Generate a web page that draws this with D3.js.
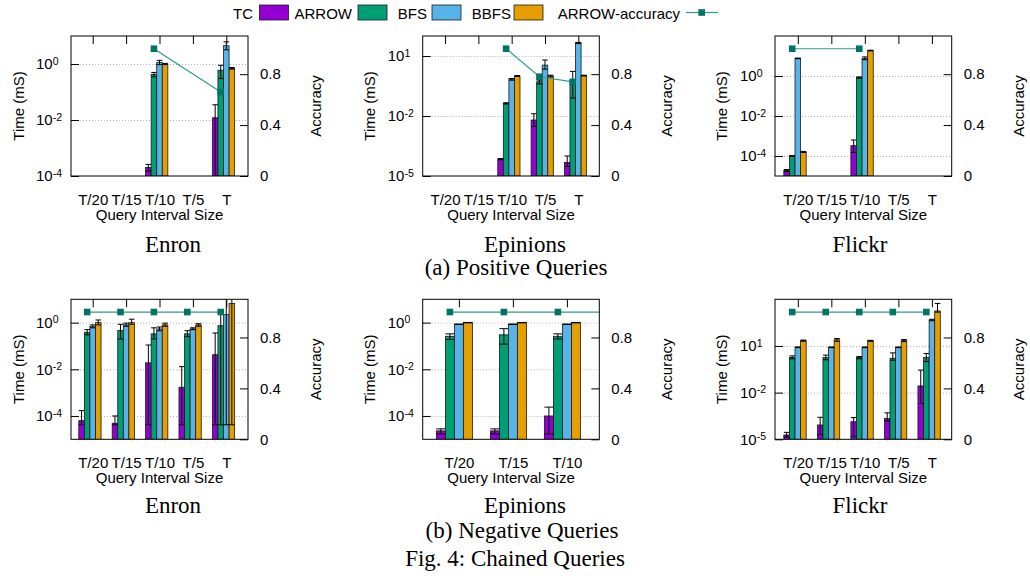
<!DOCTYPE html>
<html>
<head>
<meta charset="utf-8">
<script src="https://cdn.jsdelivr.net/npm/d3@7"></script>
<style>
  body { margin: 0; background: #fff; }
  svg text { font-family: "Liberation Sans", Arial, sans-serif; }
  .cap { font-family: "Liberation Serif", "Times New Roman", serif; font-size: 23px; }
</style>
</head>
<body>
<svg id="fig" width="1030" height="582"></svg>
<script>
const methods = ["TC", "ARROW", "BFS", "BBFS"];
const colors = ["#9400d3", "#009e73", "#56b4e9", "#e69f00"];
const intervals = ["T/20", "T/15", "T/10", "T/5", "T"];
const epinionsNegIntervals = ["T/20", "T/15", "T/10"];
const accTicks = [0, 0.4, 0.8];

// each entry: [time, errLow, errHigh] per interval, null = no bar
const enronPosTC    = [null, null, [2e-4, 1.5e-4, 2.6e-4], null, [0.012, 1e-5, 0.035]];
const enronPosARROW = [null, null, [0.42, 0.35, 0.5], null, [0.6, 0.3, 0.9]];
const enronPosBFS   = [null, null, [1.15, 0.95, 1.35], null, [4.5, 3.2, 6.2]];
const enronPosBBFS  = [null, null, [1.0, 0.95, 1.05], null, [0.7, 0.66, 0.75]];
const enronPosAcc   = [null, null, 1.0, null, 0.66];

const epinionsPosTC    = [null, null, [7e-5, 6.5e-5, 7.5e-5], [0.0063, 0.003, 0.013], [4.8e-5, 3e-5, 1e-4]];
const epinionsPosARROW = [null, null, [0.043, 0.04, 0.046], [0.52, 0.4, 0.62], [0.63, 0.08, 1.7]];
const epinionsPosBFS   = [null, null, [0.7, 0.62, 0.75], [3.5, 2.2, 6.3], [46, 42, 48]];
const epinionsPosBBFS  = [null, null, [1.0, 0.95, 1.05], [1.0, 0.9, 1.1], [1.05, 1.0, 1.1]];
const epinionsPosAcc   = [null, null, 1.0, 0.78, 0.74];

const flickrPosTC    = [[1.9e-5, 1.7e-5, 2.1e-5], null, [3.3e-4, 1.5e-4, 6.3e-4], null, null];
const flickrPosARROW = [[1e-4, 0.95e-4, 1.05e-4], null, [0.85, 0.78, 0.9], null, null];
const flickrPosBFS   = [[7.6, 7.3, 7.9], null, [7.6, 6.5, 9], null, null];
const flickrPosBBFS  = [[1.6e-4, 1.5e-4, 1.7e-4], null, [18.6, 18, 19.5], null, null];
const flickrPosAcc   = [1.0, null, 1.0, null, null];

const enronNegTC    = [[6.3e-5, 4.2e-5, 1.7e-4], [4.9e-5, 4.2e-5, 1e-4], [0.019, 4.2e-5, 0.11], [1.7e-3, 4.2e-5, 0.013], [0.042, 4.2e-5, 0.36]];
const enronNegARROW = [[0.38, 0.3, 0.5], [0.46, 0.2, 0.85], [0.33, 0.2, 0.6], [0.33, 0.25, 0.45], [0.74, 4.2e-5, 3]];
const enronNegBFS   = [[0.7, 0.6, 0.8], [0.8, 0.7, 0.95], [0.54, 0.45, 0.65], [0.54, 0.5, 0.6], [2.2, 4.2e-5, 12]];
const enronNegBBFS  = [[1.0, 0.8, 1.3], [1.0, 0.85, 1.4], [0.8, 0.7, 0.95], [0.8, 0.7, 0.9], [6.6, 4.2e-5, 15]];
const enronNegAcc   = [1, 1, 1, 1, 1];

const epinionsNegTC    = [[2.3e-5, 1.7e-5, 2.8e-5], [2.3e-5, 1.7e-5, 2.8e-5], [1e-4, 1.7e-5, 2.4e-4]];
const epinionsNegARROW = [[0.26, 0.19, 0.33], [0.3, 0.12, 0.55], [0.26, 0.2, 0.33]];
const epinionsNegBFS   = [[0.85, 0.83, 0.87], [0.85, 0.83, 0.87], [0.85, 0.83, 0.87]];
const epinionsNegBBFS  = [[1.0, 0.98, 1.02], [1.0, 0.98, 1.02], [1.0, 0.98, 1.02]];
const epinionsNegAcc   = [1, 1, 1, 1];

const flickrNegTC    = [[1.9e-5, 1.4e-5, 2.8e-5], [8.3e-5, 2e-5, 2.6e-4], [1.35e-4, 1.5e-5, 2.5e-4], [2.2e-4, 1.5e-4, 5e-4], [0.027, 2e-3, 0.28]];
const flickrNegARROW = [[1.8, 1.5, 2.3], [1.8, 1.3, 2.6], [1.8, 1.5, 2.1], [1.6, 1.2, 3.6], [1.8, 1.0, 3.3]];
const flickrNegBFS   = [[8.2, 7.8, 8.6], [8.2, 7.8, 8.6], [8.2, 7.8, 8.6], [8.2, 7.8, 8.6], [470, 420, 520]];
const flickrNegBBFS  = [[22, 20, 24], [25, 20, 30], [22, 20, 23], [22, 19, 26], [1780, 1500, 5400]];
const flickrNegAcc   = [1, 1, 1, 1, 1];

const rowTop = { y0: 36, y1: 176 }, rowBot = { y0: 299.3, y1: 439.3 };
const cols = [
  { x0: 71, x1: 248, ylab: 24, alab: 321 },
  { x0: 422.7, x1: 599.3, ylab: 375, alab: 672 },
  { x0: 775, x1: 951.7, ylab: 727, alab: 1024 }
];

const panels = [
  { ...cols[0], ...rowTop, xd: [-0.65, 4.65], yd: [1e-4, 1e1], yt: [1e-4, 1e-2, 1e0], cats: intervals,
    bars: [enronPosTC, enronPosARROW, enronPosBFS, enronPosBBFS], acc: enronPosAcc },
  { ...cols[1], ...rowTop, xd: [-0.67, 4.63], yd: [1e-5, 1e2], yt: [1e-5, 1e-2, 1e1], cats: intervals,
    bars: [epinionsPosTC, epinionsPosARROW, epinionsPosBFS, epinionsPosBBFS], acc: epinionsPosAcc },
  { ...cols[2], ...rowTop, xd: [-0.68, 4.59], yd: [1e-5, 1e2], yt: [1e-4, 1e-2, 1e0], cats: intervals,
    bars: [flickrPosTC, flickrPosARROW, flickrPosBFS, flickrPosBBFS], acc: flickrPosAcc },
  { ...cols[0], ...rowBot, xd: [-0.65, 4.65], yd: [1e-5, 1e1], yt: [1e-4, 1e-2, 1e0], cats: intervals,
    bars: [enronNegTC, enronNegARROW, enronNegBFS, enronNegBBFS], acc: enronNegAcc },
  { ...cols[1], ...rowBot, xd: [-0.67, 2.6], yd: [1e-5, 1e1], yt: [1e-4, 1e-2, 1e0], cats: epinionsNegIntervals,
    bars: [epinionsNegTC, epinionsNegARROW, epinionsNegBFS, epinionsNegBBFS], acc: epinionsNegAcc },
  { ...cols[2], ...rowBot, xd: [-0.68, 4.59], yd: [1e-5, 1e4], yt: [1e-5, 1e-2, 1e1], cats: intervals,
    bars: [flickrNegTC, flickrNegARROW, flickrNegBFS, flickrNegBBFS], acc: flickrNegAcc }
];

const svg = d3.select("#fig");
panels.forEach(drawPanel);
drawLegend();
drawCaptions();

function drawPanel(p, k) {
  const g = svg.append("g");
  const x = d3.scaleLinear().domain(p.xd).range([p.x0, p.x1]);
  const y = d3.scaleLog().domain(p.yd).range([p.y1, p.y0]);
  const ya = d3.scaleLinear().domain([0, 1.1]).range([p.y1, p.y0]);
  const bw = x(1 / 6) - x(0);
  const idx = p.cats.map((c, i) => i);

  g.append("clipPath").attr("id", "clip" + k)
    .append("rect")
    .attr("x", p.x0).attr("y", p.y0)
    .attr("width", p.x1 - p.x0).attr("height", p.y1 - p.y0);

  // dotted grid
  const grid = g.append("g")
    .attr("transform", `translate(${p.x0},0)`)
    .call(d3.axisLeft(y).tickValues(p.yt.filter(t => y(t) < p.y1 - 1))
      .tickSize(-(p.x1 - p.x0)).tickFormat(""));
  grid.select(".domain").remove();
  grid.selectAll("line").attr("stroke", "#b0b0b0").attr("stroke-dasharray", "1,2");

  const plot = g.append("g").attr("clip-path", `url(#clip${k})`);

  p.bars.forEach((vals, j) => {
    vals.forEach((d, i) => {
      if (!d) return;
      const left = x(i - 5 / 12 + j / 6);
      plot.append("rect")
        .attr("x", left).attr("width", bw)
        .attr("y", y(d[0])).attr("height", p.y1 - y(d[0]))
        .attr("fill", colors[j])
        .attr("stroke", "#1a1a1a").attr("stroke-width", 0.8);
    });
  });

  p.bars.forEach((vals, j) => {
    vals.forEach((d, i) => {
      if (!d) return;
      const cx = x(i - 1 / 3 + j / 6);
      const e = plot.append("g").attr("stroke", "#000").attr("stroke-width", 1);
      e.append("line").attr("x1", cx).attr("x2", cx).attr("y1", y(d[1])).attr("y2", y(d[2]));
      [d[1], d[2]].forEach(v => {
        e.append("line").attr("x1", cx - bw / 2).attr("x2", cx + bw / 2)
          .attr("y1", y(v)).attr("y2", y(v));
      });
    });
  });

  // accuracy line
  const accPts = p.acc.map((a, i) => ({ i, a })).filter(d => d.a != null);
  const line = d3.line().x(d => x(d.i - 1 / 6)).y(d => ya(d.a));
  plot.append("path").datum(accPts)
    .attr("fill", "none").attr("stroke", "#2f9a89").attr("stroke-width", 1.2)
    .attr("d", line);
  plot.selectAll(null).data(accPts).enter().append("rect")
    .attr("x", d => x(d.i - 1 / 6) - 3.3).attr("y", d => ya(d.a) - 3.3)
    .attr("width", 6.6).attr("height", 6.6)
    .attr("fill", "#007565");

  // frame
  g.append("rect")
    .attr("x", p.x0).attr("y", p.y0)
    .attr("width", p.x1 - p.x0).attr("height", p.y1 - p.y0)
    .attr("fill", "none").attr("stroke", "#000").attr("stroke-width", 1);

  // top ticks (inward)
  const ax = g.append("g").attr("transform", `translate(0,${p.y0})`)
    .call(d3.axisTop(x).tickValues(idx).tickSize(-8).tickFormat(""));
  ax.select(".domain").remove();
  ax.selectAll("line").attr("stroke", "#000");

  // bottom labels
  const bx = g.append("g").attr("transform", `translate(0,${p.y1})`)
    .call(d3.axisBottom(x).tickValues(idx).tickSize(0).tickPadding(18).tickFormat(i => p.cats[i]));
  bx.select(".domain").remove();
  bx.selectAll("text").attr("font-size", 15).attr("fill", "#000")
    .attr("font-family", "Liberation Sans, Arial, sans-serif");

  // left axis
  const ly = g.append("g").attr("transform", `translate(${p.x0},0)`)
    .call(d3.axisLeft(y).tickValues(p.yt).tickSize(-8).tickPadding(35));
  ly.select(".domain").remove();
  ly.selectAll("line").attr("stroke", "#000");
  ly.selectAll("text").each(function (t) {
    const s = d3.select(this).text(null)
      .attr("text-anchor", "start").attr("x", -35).attr("dy", "0.33em")
      .attr("font-size", 15).attr("fill", "#000")
      .attr("font-family", "Liberation Sans, Arial, sans-serif");
    s.append("tspan").text("10");
    s.append("tspan").attr("dy", "-0.45em").attr("font-size", 10.5)
      .text(String(Math.round(Math.log10(t))));
  });

  // right axis (accuracy)
  const ry = g.append("g").attr("transform", `translate(${p.x1},0)`)
    .call(d3.axisRight(ya).tickValues(accTicks).tickSize(-8).tickPadding(12)
      .tickFormat(v => v === 0 ? "0" : v.toFixed(1)));
  ry.select(".domain").remove();
  ry.selectAll("line").attr("stroke", "#000");
  ry.selectAll("text").attr("font-size", 15).attr("fill", "#000")
    .attr("font-family", "Liberation Sans, Arial, sans-serif");

  const midY = (p.y0 + p.y1) / 2;
  g.append("text")
    .attr("transform", `translate(${p.ylab},${midY}) rotate(-90)`)
    .attr("text-anchor", "middle").attr("font-size", 15)
    .text("Time (mS)");
  g.append("text")
    .attr("transform", `translate(${p.alab},${midY}) rotate(-90)`)
    .attr("text-anchor", "middle").attr("font-size", 15)
    .text("Accuracy");
  g.append("text")
    .attr("x", (p.x0 + p.x1) / 2).attr("y", p.y1 + 44)
    .attr("text-anchor", "middle").attr("font-size", 15)
    .text("Query Interval Size");
}

function drawLegend() {
  const items = [
    { textEnd: 253, sx: 259.5 },
    { textEnd: 352, sx: 358 },
    { textEnd: 427, sx: 432 },
    { textEnd: 511, sx: 514 }
  ];
  const lg = svg.append("g");
  methods.forEach((m, j) => {
    lg.append("text").attr("x", items[j].textEnd).attr("y", 19)
      .attr("text-anchor", "end").attr("font-size", 15).text(m);
    lg.append("rect").attr("x", items[j].sx).attr("y", 5)
      .attr("width", 29).attr("height", 15)
      .attr("fill", colors[j]).attr("stroke", "#1a1a1a").attr("stroke-width", 0.8);
  });
  lg.append("text").attr("x", 680).attr("y", 19)
    .attr("text-anchor", "end").attr("font-size", 15).text("ARROW-accuracy");
  lg.append("line").attr("x1", 686).attr("x2", 718).attr("y1", 12.5).attr("y2", 12.5)
    .attr("stroke", "#2f9a89").attr("stroke-width", 1.2);
  lg.append("rect").attr("x", 698.4).attr("y", 9.2).attr("width", 6.6).attr("height", 6.6)
    .attr("fill", "#007565");
}

function drawCaptions() {
  const caps = [
    ["Enron", 173, 252], ["Epinions", 525, 252], ["Flickr", 860, 252],
    ["(a) Positive Queries", 516, 275],
    ["Enron", 173, 513], ["Epinions", 525, 513], ["Flickr", 860, 513],
    ["(b) Negative Queries", 522, 538],
    ["Fig. 4: Chained Queries", 515, 566]
  ];
  svg.append("g").selectAll("text").data(caps).enter().append("text")
    .attr("class", "cap")
    .attr("x", d => d[1]).attr("y", d => d[2])
    .attr("text-anchor", "middle")
    .text(d => d[0]);
}
</script>
</body>
</html>
